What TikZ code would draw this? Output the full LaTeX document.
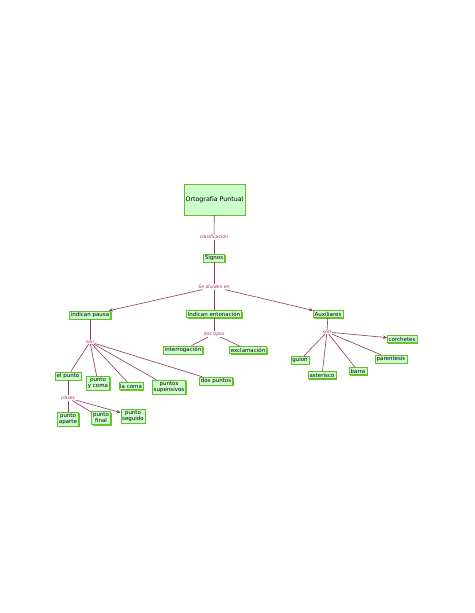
\documentclass[tikz,border=0pt]{standalone}
\usepackage{fontspec}
\setmainfont{DejaVu Sans}
\usetikzlibrary{shadows,arrows.meta}
\definecolor{cfill}{HTML}{CCFFCC}
\definecolor{cborder}{HTML}{66BB33}
\definecolor{cshadow}{HTML}{66CC22}
\definecolor{cline}{HTML}{8B3A62}
\definecolor{clabel}{HTML}{A03070}
\tikzset{
  concept/.style={draw=cborder, fill=cfill, line width=0.4pt, font=\fontsize{5.5}{6}\selectfont,
    inner sep=1.4pt, align=center, drop shadow={shadow xshift=1.2pt, shadow yshift=-1.2pt, fill=cshadow, opacity=1}},
  link/.style={font=\itshape\fontsize{4.6}{5}\selectfont, text=clabel, inner sep=0.6pt, fill=white},
  conn/.style={draw=cline, line width=0.6pt},
  arr/.style={conn, -{Stealth[length=4pt,width=3.5pt]}}
}
\begin{document}
\begin{tikzpicture}[x=1pt,y=-1pt]
\useasboundingbox (0,0) rectangle (474,613);
\fill[white] (0,0) rectangle (474,613);
% concepts
\node[concept, minimum width=57pt, minimum height=31pt, font=\fontsize{6.3}{7}\selectfont] (orto) at (214.5,199.5) {Ortografía Puntual};
\node[concept] (signos) at (214,258) {Signos};
\node[concept] (pausa) at (90,315) {indican pausa};
\node[concept] (ento) at (214,314) {Indican entonación};
\node[concept] (aux) at (328,314) {Auxiliares};
\node[concept] (interr) at (183,350) {interrogación};
\node[concept] (excl) at (248,350) {exclamación};
\node[concept] (corch) at (402,339) {corchetes};
\node[concept] (guion) at (300,360) {guion};
\node[concept] (ast) at (322,375) {asterisco};
\node[concept] (barra) at (358,371) {barra};
\node[concept] (paren) at (391,359) {parentesis};
\node[concept] (elpunto) at (68,376) {el punto};
\node[concept] (pyc) at (98,383) {punto\\y coma};
\node[concept] (coma) at (131,386) {la coma};
\node[concept] (susp) at (169,387) {puntos\\supensivos};
\node[concept] (dosp) at (216,381) {dos puntos};
\node[concept] (aparte) at (68,419) {punto\\aparte};
\node[concept] (final) at (101,418) {punto\\final};
\node[concept] (seguido) at (133,416) {punto\\seguido};
% links
\node[link] (clasif) at (214,237) {clasificación};
\node[link] (divid) at (214,287) {Se dividen en};
\node[link] (dostipos) at (214,334) {dos tipos};
\node[link] (sonL) at (90,342) {son};
\node[link] (sonR) at (327,332) {son};
\node[link] (clases) at (68,398) {clases};
% connectors
\draw[conn] (orto) -- (clasif);
\draw[conn] (clasif) -- (signos);
\draw[conn] (signos) -- (divid);
\draw[arr] (divid) -- (pausa);
\draw[conn] (divid) -- (ento);
\draw[arr] (divid) -- (aux);
\draw[conn] (ento) -- (dostipos);
\draw[conn] (dostipos) -- (interr);
\draw[conn] (dostipos) -- (excl);
\draw[conn] (aux) -- (sonR);
\draw[arr] (sonR) -- (corch);
\draw[conn] (sonR) -- (guion);
\draw[conn] (sonR) -- (ast);
\draw[conn] (sonR) -- (barra);
\draw[conn] (sonR) -- (paren);
\draw[conn] (pausa) -- (sonL);
\draw[conn] (sonL) -- (elpunto);
\draw[conn] (sonL) -- (pyc);
\draw[conn] (sonL) -- (coma);
\draw[conn] (sonL) -- (susp);
\draw[conn] (sonL) -- (dosp);
\draw[conn] (elpunto) -- (clases);
\draw[conn] (clases) -- (aparte);
\draw[conn] (clases) -- (final);
\draw[arr] (clases) -- (seguido);
\end{tikzpicture}
\end{document}
